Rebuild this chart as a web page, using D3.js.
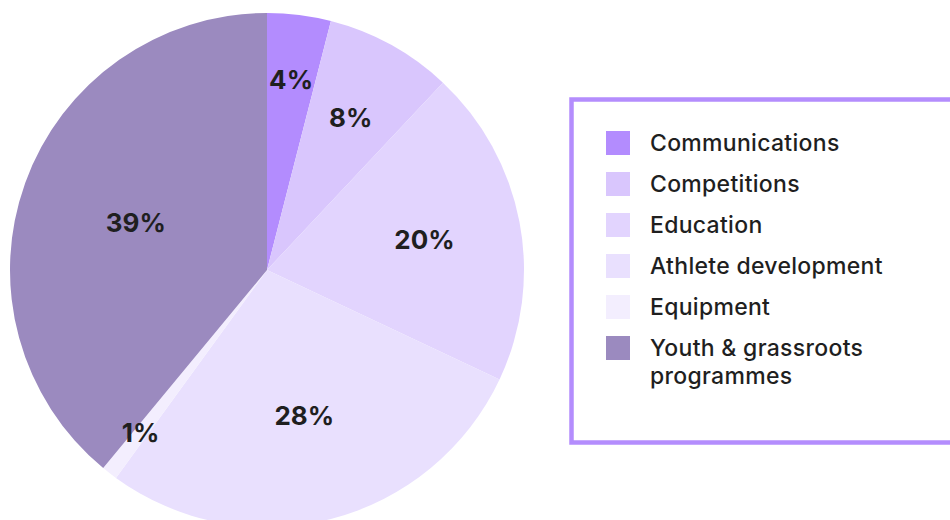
<!DOCTYPE html>
<html>
<head>
<meta charset="utf-8">
<script src="https://cdn.jsdelivr.net/npm/d3@7"></script>
<style>
  html, body { margin: 0; padding: 0; background: #fff; }
  svg { display: block; }
</style>
</head>
<body>
<svg id="chart"></svg>
<script>
const categories = ["Communications", "Competitions", "Education", "Athlete development", "Equipment", "Youth & grassroots programmes"];
const values = [4, 8, 20, 28, 1, 39];
const legendLines = [["Communications"], ["Competitions"], ["Education"], ["Athlete development"], ["Equipment"], ["Youth & grassroots", "programmes"]];
const colors = ["#b38cfe", "#d9c6fd", "#e2d4fe", "#e9e0fe", "#f3eefe", "#9b8abf"];

const width = 950, height = 520;
const cx = 267, cy = 270, radius = 257;
const font = "Inter, 'Noto Sans', sans-serif";

const svg = d3.select("#chart")
    .attr("width", width)
    .attr("height", height)
    .attr("viewBox", [0, 0, width, height]);

const pie = d3.pie().sort(null).value(d => d)(values);
const arc = d3.arc().innerRadius(0).outerRadius(radius);

const g = svg.append("g").attr("transform", `translate(${cx},${cy})`);

g.selectAll("path")
    .data(pie)
    .join("path")
    .attr("fill", (d, i) => colors[i])
    .attr("d", arc);

// labels: sector centroid, pushed outward for thin slices
const total = d3.sum(values);
function labelPos(d) {
    const frac = d.value / total;
    const half = (d.endAngle - d.startAngle) / 2;
    const centroid = 2 * radius * Math.sin(half) / (3 * half);
    const dist = Math.max(centroid * (frac > 0.3 ? 1.06 : 1), radius * (0.82 - 1.8 * frac));
    const a = (d.startAngle + d.endAngle) / 2;
    return [dist * Math.sin(a), -dist * Math.cos(a)];
}

g.selectAll("text")
    .data(pie)
    .join("text")
    .attr("transform", d => `translate(${labelPos(d)})`)
    .attr("text-anchor", "middle")
    .attr("dy", "0.36em")
    .attr("font-family", font)
    .attr("font-weight", 700)
    .attr("font-size", 26)
    .attr("fill", "#1f1f1f")
    .text(d => d.value + "%");

// legend
const legend = svg.append("g");
legend.append("rect")
    .attr("x", 571.5)
    .attr("y", 99.5)
    .attr("width", 400)
    .attr("height", 343)
    .attr("fill", "#fff")
    .attr("stroke", "#b48dfd")
    .attr("stroke-width", 4.5);

const rowY = d3.scalePoint()
    .domain(categories)
    .range([143, 348]);

const rows = legend.selectAll("g.row")
    .data(categories)
    .join("g")
    .attr("class", "row")
    .attr("transform", d => `translate(0,${rowY(d)})`);

rows.append("rect")
    .attr("x", 606)
    .attr("y", -12)
    .attr("width", 24)
    .attr("height", 24)
    .attr("fill", (d, i) => colors[i]);

rows.append("text")
    .attr("x", 650)
    .attr("y", 8)
    .attr("font-family", font)
    .attr("font-weight", 500)
    .attr("font-size", 23)
    .attr("letter-spacing", 0.3)
    .attr("fill", "#1f1f1f")
    .selectAll("tspan")
    .data((d, i) => legendLines[i])
    .join("tspan")
    .attr("x", 650)
    .attr("dy", (d, i) => i === 0 ? 0 : 28)
    .text(d => d);
</script>
</body>
</html>
